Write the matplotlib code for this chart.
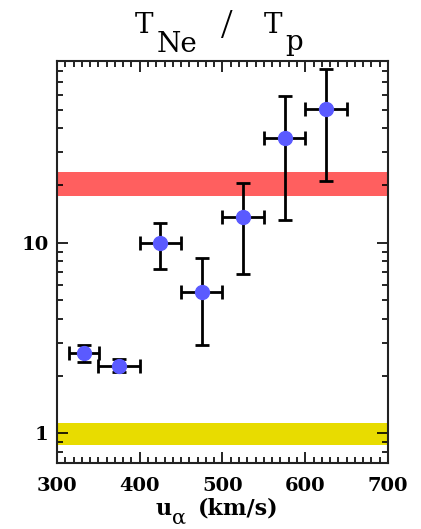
import numpy as np
import matplotlib
matplotlib.use("Agg")
import matplotlib.pyplot as plt
from matplotlib.ticker import LogLocator, FixedLocator, MultipleLocator, NullFormatter

# data
u_alpha = [333, 375, 425, 475, 525, 575, 625]
u_err = [18, 25, 25, 25, 25, 25, 25]
ratio = [2.64, 2.26, 10.0, 5.5, 13.6, 35.3, 50.1]
ratio_hi = [2.90, 2.45, 12.7, 8.3, 20.7, 58.9, 81.4]
ratio_lo = [2.36, 2.10, 7.3, 2.9, 6.9, 13.2, 21.2]

red_band = (17.7, 23.4)
yellow_band = (0.87, 1.14)

W, H = 421, 529
fig = plt.figure(figsize=(W / 100, H / 100), dpi=100)
ax = fig.add_axes([0.1354, 0.1248, 0.7862, 0.7599])

ax.axhspan(*red_band, color="#ff5f5f", lw=0, zorder=1)
ax.axhspan(*yellow_band, color="#e8dc00", lw=0, zorder=1)

yerr = [np.array(ratio) - np.array(ratio_lo), np.array(ratio_hi) - np.array(ratio)]
ax.errorbar(u_alpha, ratio, xerr=u_err, yerr=yerr, fmt="none", ecolor="black",
            elinewidth=2, capsize=5, capthick=2, zorder=3)
ax.plot(u_alpha, ratio, "o", color="#5a5aff", ms=10, mec="#5a5aff", zorder=4)

ax.set_yscale("log")
ax.set_xlim(300, 700)
ax.set_ylim(0.7, 90)

ax.xaxis.set_major_locator(MultipleLocator(100))
ax.xaxis.set_minor_locator(MultipleLocator(10))
ax.yaxis.set_major_locator(FixedLocator([1, 10]))
ax.yaxis.set_minor_locator(LogLocator(base=10, subs=np.arange(2, 10)))
ax.yaxis.set_minor_formatter(NullFormatter())
ax.set_yticklabels(["1", "10"])

for lab in ax.get_xticklabels() + ax.get_yticklabels():
    lab.set_fontfamily("DejaVu Serif")
    lab.set_fontweight("bold")
    lab.set_fontsize(14)

ax.tick_params(which="both", direction="in", top=True, right=True, width=1.2, colors="black")
ax.tick_params(which="major", length=8)
ax.tick_params(axis="x", which="major", pad=10)
ax.tick_params(axis="y", which="major", pad=6)
ax.tick_params(which="minor", length=4)

for sp in ax.spines.values():
    sp.set_linewidth(1.5)
    sp.set_color("#222222")


def px_text(x, y, s, **kw):
    # place text by pixel position (origin top-left)
    fig.text(x / W, 1 - y / H, s, **kw)


# x-axis label: u_alpha (km/s)
lab_kw = dict(family="DejaVu Serif", va="baseline", ha="left")
px_text(156, 515, "u", weight="bold", fontsize=16, **lab_kw)
px_text(172, 524, "\u03b1", fontsize=15, **lab_kw)
px_text(198, 515, "(km/s)", weight="bold", fontsize=16, **lab_kw)

# title: T_Ne / T_p
ttl_kw = dict(family="DejaVu Serif", va="baseline", ha="left")
px_text(135, 33, "T", fontsize=20, **ttl_kw)
px_text(157, 52, "Ne", fontsize=20, **ttl_kw)
px_text(227, 38, "/", fontsize=30, family="Liberation Serif", va="baseline", ha="center")
px_text(264, 33, "T", fontsize=20, **ttl_kw)
px_text(285, 50, "p", fontsize=20, **ttl_kw)

fig.savefig("out.png", dpi=100)
